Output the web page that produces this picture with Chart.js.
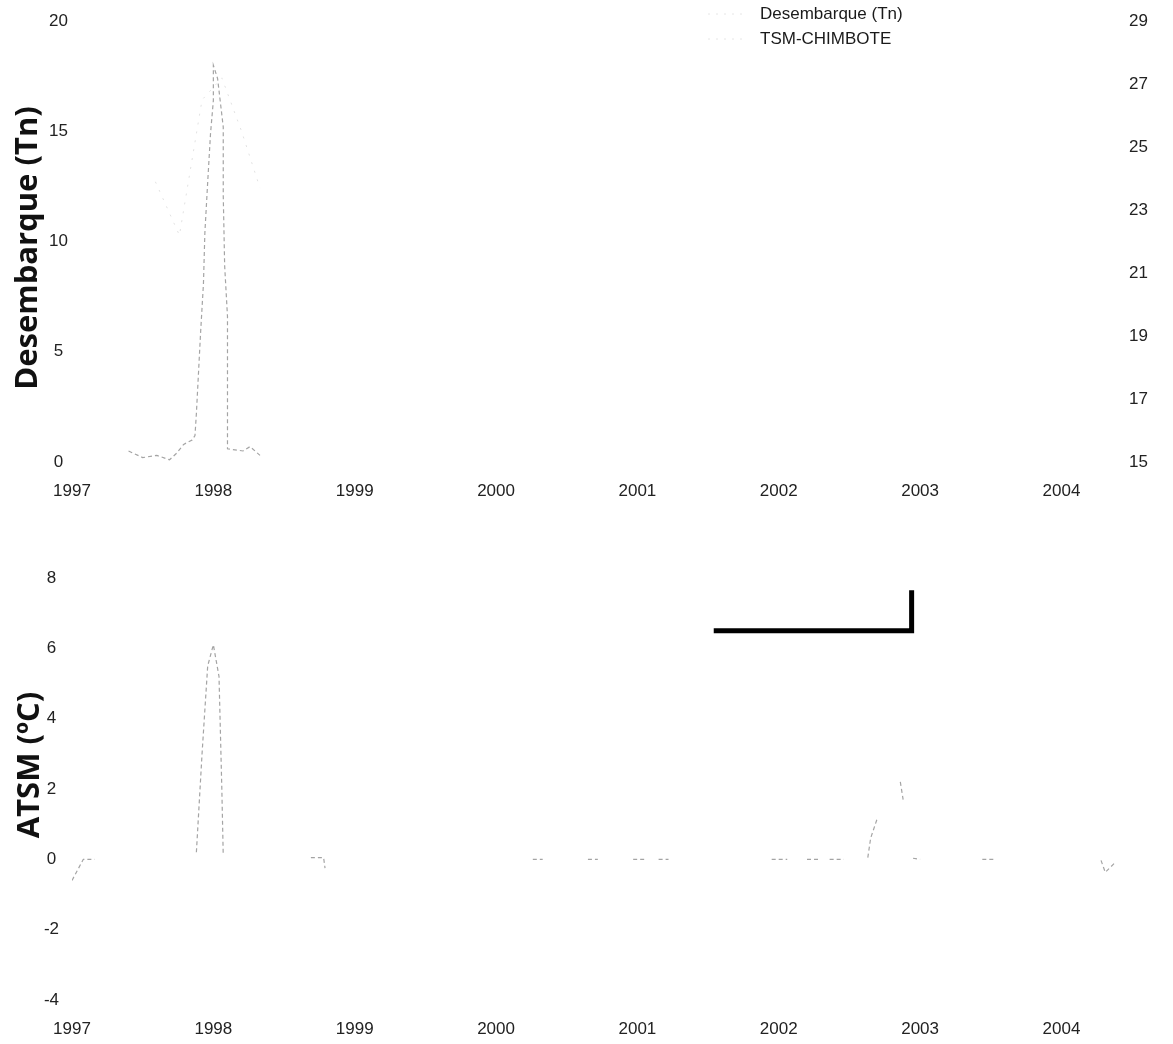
<!DOCTYPE html>
<html><head><meta charset="utf-8">
<script src="https://cdn.jsdelivr.net/npm/chart.js@4.4.1/dist/chart.umd.min.js"></script>
<style>
html,body{margin:0;padding:0;background:#fff;}
#wrap{position:relative;width:1173px;height:1044px;overflow:hidden;background:#fff;}
#c1{position:absolute;left:0;top:0;}
#c2{position:absolute;left:0;top:530px;}
</style></head><body>
<div id="wrap"><canvas id="c1" width="1173" height="515"></canvas><canvas id="c2" width="1173" height="514"></canvas></div>
<script>
// ---- tick labels ----
const yearTicks = [1997, 1998, 1999, 2000, 2001, 2002, 2003, 2004];
const desembarqueTicks = [0, 5, 10, 15, 20];
const tsmTicks = [15, 17, 19, 21, 23, 25, 27, 29];
const atsmTicks = [-4, -2, 0, 2, 4, 6, 8];

// ---- series ----
const desembarqueYears = [1997.40, 1997.50, 1997.60, 1997.69, 1997.74, 1997.79, 1997.85, 1997.87, 1997.88, 1997.91, 1997.93, 1997.94, 1997.96, 1997.98, 1998.00, 1998.00, 1998.03, 1998.07, 1998.07, 1998.08, 1998.10, 1998.10, 1998.10, 1998.10, 1998.21, 1998.26, 1998.33];
const desembarqueTn    = [0.5, 0.2, 0.3, 0.1, 0.4, 0.8, 1.0, 1.2, 2.2, 5.9, 8.1, 10.4, 12.7, 14.9, 16.4, 18.0, 17.4, 15.2, 12.1, 8.9, 6.6, 4.4, 2.1, 0.6, 0.5, 0.7, 0.3];

const tsmYears    = [1997.59, 1997.76, 1997.92, 1998.06, 1998.20, 1998.33];
const tsmChimbote = [23.9, 22.2, 26.5, 27.2, 25.5, 23.7];

const atsmYears  = [1997.00, 1997.08, 1997.16, 1997.50, 1997.88, 1997.92, 1997.96, 1998.00, 1998.04, 1998.06, 1998.07, 1998.40, 1998.69, 1998.78, 1998.79, 1999.50, 2000.26, 2000.33, 2000.45, 2000.65, 2000.72, 2000.85, 2000.97, 2001.06, 2001.10, 2001.15, 2001.22, 2001.60, 2001.95, 2002.06, 2002.12, 2002.20, 2002.28, 2002.32, 2002.36, 2002.46, 2002.55, 2002.63, 2002.65, 2002.70, 2002.78, 2002.86, 2002.88, 2002.91, 2002.95, 2003.00, 2003.20, 2003.44, 2003.53, 2003.90, 2004.28, 2004.31, 2004.38];
const atsmValues = [-0.6, 0.0, 0.0, null, 0.2, 3.0, 5.5, 6.1, 5.2, 2.0, 0.1, null, 0.05, 0.05, -0.25, null, 0.0, 0.0, null, 0.0, 0.0, null, 0.0, 0.0, null, 0.0, 0.0, null, 0.0, 0.0, null, 0.0, 0.0, null, 0.0, 0.0, null, 0.05, 0.6, 1.2, null, 2.2, 1.7, null, 0.03, 0.0, null, 0.0, 0.0, null, -0.03, -0.37, -0.09];

const markYears  = [2001.54, 2002.94, 2002.94];
const markValues = [6.5, 6.5, 7.65];

const legendLabels = ['Desembarque (Tn)', 'TSM-CHIMBOTE'];

// ---- helpers ----
const pts = (xs, ys) => xs.map((x, i) => ({x: x, y: ys[i]}));
const tickFont = {family: '"Liberation Sans", Arial, sans-serif', size: 17};
const fixedTicks = arr => (s => { s.ticks = arr.map(v => ({value: v})); });

const titlePlugin = {
  id: 'sideTitle',
  afterDraw(chart, args, opts) {
    const ctx = chart.ctx;
    ctx.save();
    ctx.translate(opts.x, opts.y);
    ctx.rotate(-Math.PI / 2);
    ctx.font = 'bold 31px "Open Sans", "DejaVu Sans", sans-serif';
    ctx.fillStyle = '#111';
    ctx.textAlign = 'center';
    ctx.textBaseline = 'middle';
    ctx.fillText(opts.text, 0, 0);
    ctx.restore();
  }
};

const legendPlugin = {
  id: 'innerLegend',
  afterDraw(chart, args, opts) {
    if (!opts.show) return;
    const ctx = chart.ctx;
    ctx.save();
    ctx.font = '17px "Liberation Sans", Arial, sans-serif';
    ctx.fillStyle = '#1a1a1a';
    ctx.textAlign = 'left';
    ctx.textBaseline = 'middle';
    legendLabels.forEach((t, i) => {
      const y = 14 + i * 25;
      ctx.strokeStyle = '#e6e6e6';
      ctx.lineWidth = 1;
      ctx.setLineDash([2, 6]);
      ctx.beginPath(); ctx.moveTo(708, y); ctx.lineTo(748, y); ctx.stroke();
      ctx.fillText(t, 760, y);
    });
    ctx.restore();
  }
};

const xScale = () => ({
  type: 'linear', min: 1997, max: 2004.4,
  grid: {display: false, drawTicks: false}, border: {display: false},
  afterBuildTicks: fixedTicks(yearTicks),
  afterFit: s => { s.height = 40; },
  ticks: {padding: 19, color: '#222', font: tickFont, autoSkip: false, maxRotation: 0, callback: v => String(v)}
});

// ---- top chart ----
new Chart(document.getElementById('c1'), {
  type: 'line',
  data: {
    datasets: [
      {label: legendLabels[0], data: pts(desembarqueYears, desembarqueTn), yAxisID: 'y',
       borderColor: '#a4a4a4', borderWidth: 1.2, borderDash: [4, 3], pointRadius: 0, tension: 0},
      {label: legendLabels[1], data: pts(tsmYears, tsmChimbote), yAxisID: 'y2',
       borderColor: '#e2e2e2', borderWidth: 1, borderDash: [2, 7], pointRadius: 0, tension: 0}
    ]
  },
  options: {
    responsive: false, animation: false,
    layout: {padding: {left: 0, right: 0, top: 20, bottom: 13}},
    plugins: {legend: {display: false}, tooltip: {enabled: false},
      sideTitle: {text: 'Desembarque (Tn)', x: 28, y: 248},
      innerLegend: {show: true}},
    scales: {
      x: xScale(),
      y: {position: 'left', min: 0, max: 20,
          grid: {display: false, drawTicks: false}, border: {display: false},
          afterBuildTicks: fixedTicks(desembarqueTicks),
          afterFit: s => { s.width = 72; },
          ticks: {crossAlign: 'center', padding: 4, color: '#222', font: tickFont}},
      y2: {position: 'right', min: 15, max: 29,
          grid: {display: false, drawTicks: false}, border: {display: false},
          afterBuildTicks: fixedTicks(tsmTicks),
          afterFit: s => { s.width = 55; },
          ticks: {crossAlign: 'center', padding: 11, color: '#222', font: tickFont}}
    }
  },
  plugins: [titlePlugin, legendPlugin]
});

// ---- bottom chart ----
new Chart(document.getElementById('c2'), {
  type: 'line',
  data: {
    datasets: [
      {label: 'ATSM', data: pts(atsmYears, atsmValues),
       borderColor: '#a4a4a4', borderWidth: 1.2, borderDash: [4, 3], pointRadius: 0, tension: 0, spanGaps: false},
      {label: 'marca', data: pts(markYears, markValues),
       borderColor: '#000', borderWidth: 5, pointRadius: 0, tension: 0, borderJoinStyle: 'miter', borderCapStyle: 'butt'}
    ]
  },
  options: {
    responsive: false, animation: false,
    layout: {padding: {left: 0, right: 55, top: 48, bottom: 4}},
    plugins: {legend: {display: false}, tooltip: {enabled: false},
      sideTitle: {text: 'ATSM (ºC)', x: 30, y: 235},
      innerLegend: {show: false}},
    scales: {
      x: xScale(),
      y: {position: 'left', min: -4, max: 8,
          grid: {display: false, drawTicks: false}, border: {display: false},
          afterBuildTicks: fixedTicks(atsmTicks),
          afterFit: s => { s.width = 72; },
          ticks: {crossAlign: 'center', padding: 13, color: '#222', font: tickFont}}
    }
  },
  plugins: [titlePlugin, legendPlugin]
});
</script>
</body></html>
